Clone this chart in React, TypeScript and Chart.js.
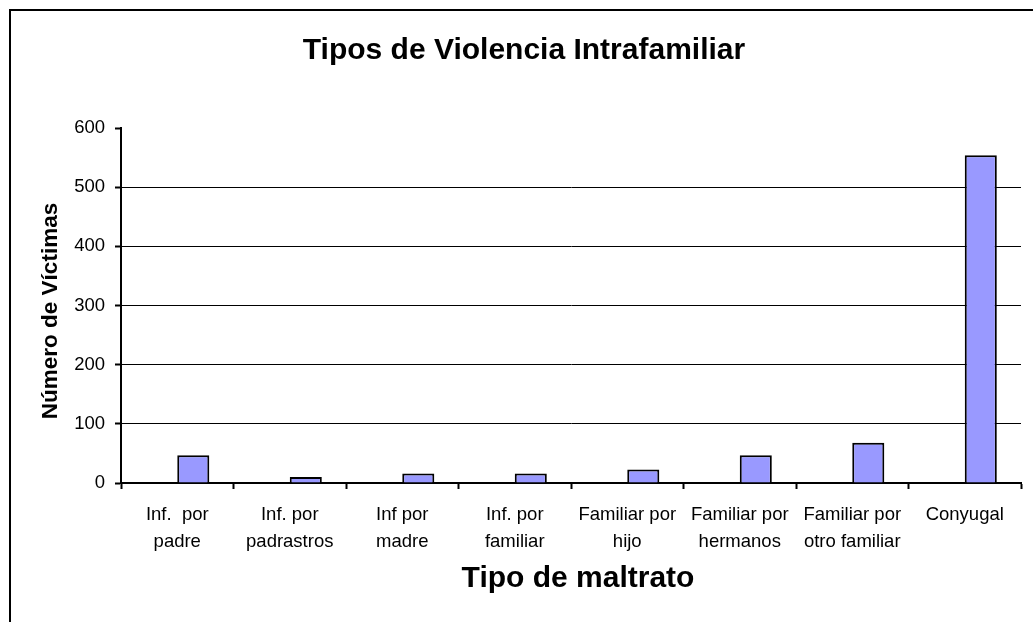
import React, { useEffect, useRef } from 'react';
import { Chart, registerables } from 'chart.js';

Chart.register(...registerables);

const categories: (string | string[])[] = [
  ['Inf.  por', 'padre'],
  ['Inf. por', 'padrastros'],
  ['Inf por', 'madre'],
  ['Inf. por', 'familiar'],
  ['Familiar por', 'hijo'],
  ['Familiar por', 'hermanos'],
  ['Familiar por', 'otro familiar'],
  'Conyugal',
];
const victims = [47, 10, 16, 16, 23, 47, 68, 554];
// empty placeholder series (the original spreadsheet chart reserves a slot left of each bar)
const emptySeries: (number | null)[] = [null, null, null, null, null, null, null, null];
const yMin = 0;
const yMax = 600;
const yStep = 100;
const chartTitle = 'Tipos de Violencia Intrafamiliar';
const xTitle = 'Tipo de maltrato';
const yTitle = 'Número de Víctimas';

const FONT = "'Liberation Sans', Arial, sans-serif";

const decorPlugin = {
  id: 'decor',
  afterDraw(chart: any) {
    const ctx = chart.ctx as CanvasRenderingContext2D;
    ctx.save();
    ctx.strokeStyle = '#000';
    ctx.lineWidth = 2;
    ctx.beginPath();
    ctx.moveTo(10, 640);
    ctx.lineTo(10, 10);
    ctx.lineTo(1040, 10);
    ctx.stroke();
    ctx.fillStyle = '#000';
    ctx.textAlign = 'center';
    ctx.textBaseline = 'middle';
    ctx.font = `bold 30px ${FONT}`;
    ctx.fillText(chartTitle, 524, 51);
    ctx.font = `bold 30px ${FONT}`;
    ctx.fillText(xTitle, 578, 579);
    ctx.translate(51, 311);
    ctx.rotate(-Math.PI / 2);
    ctx.font = `bold 22.5px ${FONT}`;
    ctx.fillText(yTitle, 0, 0);
    ctx.restore();
  },
};

export default function App() {
  const ref = useRef<HTMLCanvasElement>(null);
  useEffect(() => {
    if (!ref.current) return;
    const chart = new Chart(ref.current, {
      type: 'bar',
      data: {
        labels: categories,
        datasets: [
          {
            data: emptySeries,
            backgroundColor: 'rgba(0,0,0,0)',
            borderWidth: 0,
            barPercentage: 1,
            categoryPercentage: 0.57,
          },
          {
            data: victims,
            backgroundColor: '#9999FF',
            borderColor: '#000000',
            borderWidth: 2,
            barPercentage: 1,
            categoryPercentage: 0.57,
          },
        ],
      },
      options: {
        animation: false,
        responsive: true,
        maintainAspectRatio: false,
        layout: { padding: { top: 128, right: 12, left: 0, bottom: 0 } },
        plugins: {
          legend: { display: false },
          tooltip: { enabled: false },
          title: { display: false },
        },
        scales: {
          x: {
            grid: {
              offset: true,
              drawOnChartArea: false,
              drawTicks: true,
              tickLength: 6,
              tickColor: '#000',
              tickWidth: 2,
            },
            border: { color: '#000', width: 2 },
            ticks: {
              color: '#000',
              font: { family: FONT, size: 18.5, lineHeight: 1.46 },
              padding: 12,
              maxRotation: 0,
              autoSkip: false,
            },
            afterFit(scale: any) {
              scale.height = 139;
            },
          },
          y: {
            min: yMin,
            max: yMax,
            grid: {
              color: (c: any) =>
                c.tick && (c.tick.value === yMax || c.tick.value === yMin) ? 'rgba(0,0,0,0)' : '#000',
              lineWidth: 1,
              drawTicks: true,
              tickLength: 6,
              tickColor: '#000',
              tickWidth: 2,
            },
            border: { color: '#000', width: 2 },
            ticks: {
              stepSize: yStep,
              color: '#000',
              font: { family: FONT, size: 18.5 },
              padding: 10,
            },
            afterFit(scale: any) {
              scale.width = 121;
            },
          },
        },
      },
      plugins: [decorPlugin],
    });
    return () => chart.destroy();
  }, []);
  return (
    <div style={{ position: 'fixed', left: 0, top: 0, width: 1033, height: 622, background: '#fff' }}>
      <canvas ref={ref} />
    </div>
  );
}
